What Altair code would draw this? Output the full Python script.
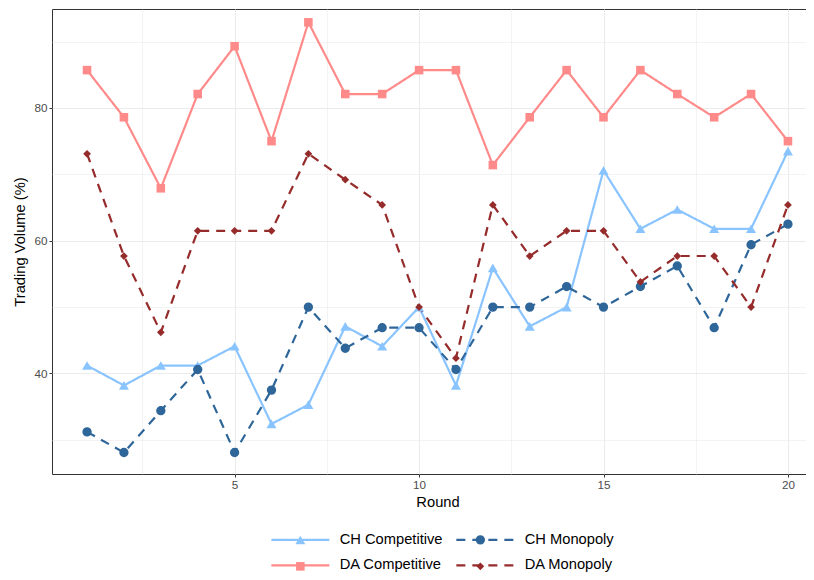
import altair as alt
import pandas as pd

rounds = list(range(1, 21))
series = ["CH Competitive", "CH Monopoly", "DA Competitive", "DA Monopoly"]
ch_competitive = [41.2, 38.2, 41.2, 41.2, 44.1, 32.4, 35.3, 47.1, 44.1, 50.0,
                  38.2, 55.9, 47.1, 50.0, 70.6, 61.8, 64.7, 61.8, 61.8, 73.5]
ch_monopoly = [31.2, 28.1, 34.4, 40.6, 28.1, 37.5, 50.0, 43.8, 46.9, 46.9,
               40.6, 50.0, 50.0, 53.1, 50.0, 53.1, 56.2, 46.9, 59.4, 62.5]
da_competitive = [85.7, 78.6, 67.9, 82.1, 89.3, 75.0, 92.9, 82.1, 82.1, 85.7,
                  85.7, 71.4, 78.6, 85.7, 78.6, 85.7, 82.1, 78.6, 82.1, 75.0]
da_monopoly = [73.1, 57.7, 46.2, 61.5, 61.5, 61.5, 73.1, 69.2, 65.4, 50.0,
               42.3, 65.4, 57.7, 61.5, 61.5, 53.8, 57.7, 57.7, 50.0, 65.4]

# axis values: major (labelled) and minor (grid only)
x_values = [2.5, 5, 7.5, 10, 12.5, 15, 17.5, 20]
y_values = [30, 40, 50, 60, 70, 80, 90]

colors = ["#8AC4FF", "#2E6699", "#FF8A8A", "#952B2B"]
shapes = ["triangle-up", "circle", "square", "diamond"]
sizes = [121, 81, 100, 60]
dashes = [[1, 0], [9, 7], [1, 0], [9, 7]]

df = pd.DataFrame({
    "Round": rounds * 4,
    "Volume": ch_competitive + ch_monopoly + da_competitive + da_monopoly,
    "Series": [s for s in series for _ in rounds],
})

W, H = 771, 465
font = "Liberation Sans"

xscale = alt.Scale(domain=[0.05, 20.95], nice=False, zero=False)
yscale = alt.Scale(domain=[24.86, 94.91], nice=False, zero=False)

legend_common = dict(
    title=None, orient="none", legendX=219, legendY=523,
    direction="horizontal", columns=2, values=series,
    symbolSize=100, symbolOffset=22, labelOffset=32,
    labelFontSize=14.7, labelColor="black", labelFont=font,
    rowPadding=10, columnPadding=8, padding=0,
)
# line keys (long solid / dashed stroke)
legend_lines = alt.Legend(symbolType="M-5.8,0L5.8,0", symbolStrokeWidth=2.2, **legend_common)
# marker keys drawn on top of the line keys
legend_marks = alt.Legend(labelOpacity=0, zindex=1, symbolOpacity=1, **legend_common)


def axis_style(minor_test, major_test):
    return dict(
        grid=True, gridColor="#EBEBEB",
        gridWidth={"condition": {"test": minor_test, "value": 0.6}, "value": 1.1},
        tickColor="#333333", tickSize=3, tickWidth=1,
        tickOpacity={"condition": {"test": minor_test, "value": 0}, "value": 1},
        labelExpr=f"{major_test} ? datum.label : ''",
        domain=False,
        labelColor="#4D4D4D", labelFontSize=11.7, labelFont=font, labelPadding=2,
        titleColor="black", titleFontSize=14.7, titleFont=font, titleFontWeight="normal",
    )


base = alt.Chart(df)
lines = base.mark_line(strokeWidth=2.2).encode(
    x=alt.X("Round:Q", scale=xscale,
            axis=alt.Axis(values=x_values, title="Round", titlePadding=4,
                          **axis_style("datum.value % 5 !== 0", "datum.value % 5 === 0"))),
    y=alt.Y("Volume:Q", scale=yscale,
            axis=alt.Axis(values=y_values, title="Trading Volume (%)", titlePadding=6,
                          **axis_style("datum.value % 20 !== 0", "datum.value % 20 === 0"))),
    color=alt.Color("Series:N", scale=alt.Scale(domain=series, range=colors), legend=legend_lines),
    strokeDash=alt.StrokeDash("Series:N", scale=alt.Scale(domain=series, range=dashes),
                              legend=legend_lines),
    detail="Series:N",
)

# marker scales list the same series in reverse order (same mapping), so their
# legend stays separate from the line legend and can be laid over it
rs = series[::-1]
points = base.mark_point(filled=True, opacity=1).encode(
    x=alt.X("Round:Q", scale=xscale),
    y=alt.Y("Volume:Q", scale=yscale),
    fill=alt.Fill("Series:N", scale=alt.Scale(domain=rs, range=colors[::-1]), legend=legend_marks),
    shape=alt.Shape("Series:N", scale=alt.Scale(domain=rs, range=shapes[::-1]), legend=legend_marks),
    size=alt.Size("Series:N", scale=alt.Scale(domain=rs, range=sizes[::-1]), legend=legend_marks),
)

chart = alt.layer(lines, points).properties(
    width=W, height=H,
    autosize=alt.AutoSizeParams(type="none"),
    padding={"left": 44, "top": 1, "right": -17, "bottom": 100},
).configure(font=font).configure_view(stroke="#333333", strokeWidth=1)

chart.save("out.html", embed_options={"renderer": "svg", "actions": False})
